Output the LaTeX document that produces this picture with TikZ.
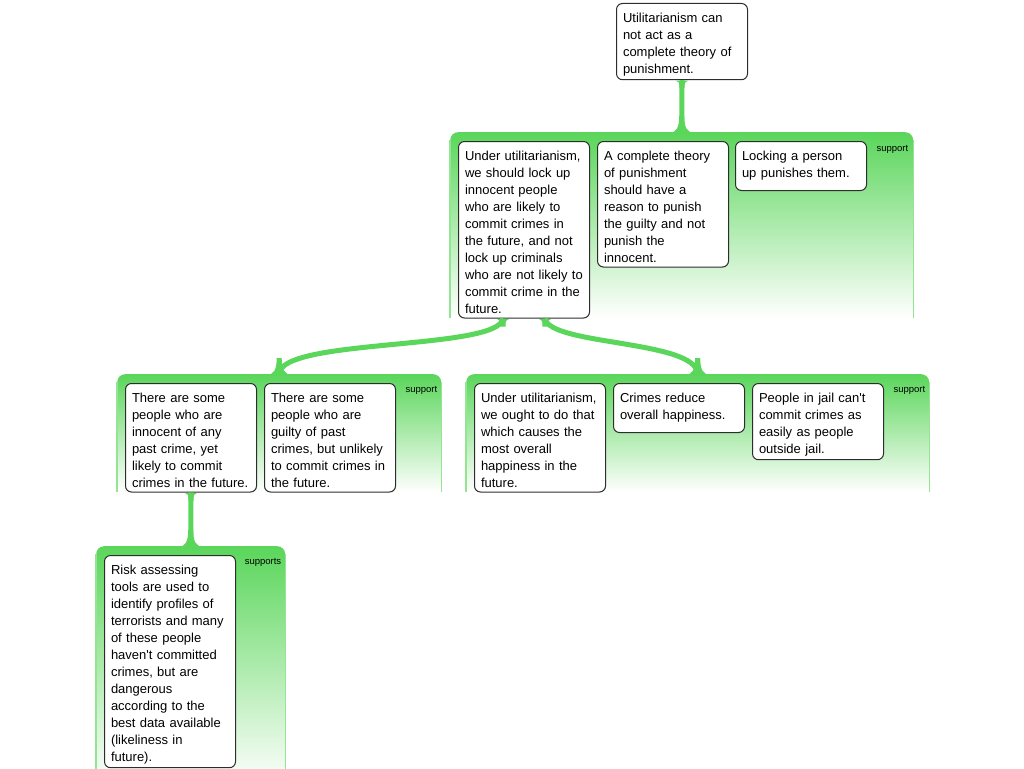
\documentclass[tikz,border=0pt]{standalone}
\usepackage{fontspec}
\setmainfont{Liberation Sans}
\usetikzlibrary{calc}
\definecolor{grn}{RGB}{90,214,90}
\definecolor{boxline}{RGB}{45,45,45}

\begin{document}
\begin{tikzpicture}[x=1pt, y=-1pt,
    claim/.style={draw=boxline, line width=1pt, fill=white, rounded corners=6pt,
      anchor=north west, align=left, text width=118pt, inner xsep=6.5pt, inner ysep=3.5pt,
      font=\fontsize{13}{17}\selectfont,
      execute at begin node={\rule{0pt}{15.5pt}}, execute at end node={\rule[-1pt]{0pt}{1pt}}},
    short/.style={text depth=26.5pt},
    panel/.style={anchor=north west, rounded corners=8pt, inner sep=0pt,
      top color=grn, middle color=grn!40, bottom color=white},
    side/.style={grn!65, line width=1.2pt},
    tag/.style={anchor=base east, inner sep=0pt, font=\fontsize{9.5}{11}\selectfont},
    link/.style={grn, line width=5pt}]
    \useasboundingbox (0,0) rectangle (1024,768);

    % green panels
    \node[panel, minimum width=463pt, minimum height=186pt] (p1) at (450,132) {};
    \node[panel, minimum width=324pt, minimum height=118pt] (p2) at (117,374) {};
    \node[panel, minimum width=463pt, minimum height=118pt] (p3) at (466,374) {};
    \node[panel, minimum width=189pt, minimum height=240pt] (p4) at (96,546) {};
    \foreach \p in {p1,p2,p3,p4} {
        \draw[side] ([yshift=-8pt]\p.north west) -- (\p.south west);
        \draw[side] ([yshift=-8pt]\p.north east) -- (\p.south east);
    }

    % claims
    \node[claim] (root) at (616,3) {Utilitarianism can\\not act as a\\complete theory of\\punishment.};

    \node[claim] (A) at (458,141) {Under utilitarianism,\\we should lock up\\innocent people\\who are likely to\\commit crimes in\\the future, and not\\lock up criminals\\who are not likely to\\commit crime in the\\future.};
    \node[claim] (B) at (597,141) {A complete theory\\of punishment\\should have a\\reason to punish\\the guilty and not\\punish the\\innocent.};
    \node[claim, short] (C) at (735,141) {Locking a person\\up punishes them.};

    \node[claim] (D) at (125,383) {There are some\\people who are\\innocent of any\\past crime, yet\\likely to commit\\crimes in the future.};
    \node[claim] (E) at (264,383) {There are some\\people who are\\guilty of past\\crimes, but unlikely\\to commit crimes in\\the future.};

    \node[claim] (F) at (474,383) {Under utilitarianism,\\we ought to do that\\which causes the\\most overall\\happiness in the\\future.};
    \node[claim, short] (G) at (613,383) {Crimes reduce\\overall happiness.};
    \node[claim] (H) at (752,383) {People in jail can\textquotesingle t\\commit crimes as\\easily as people\\outside jail.};

    \node[claim] (I) at (104,555) {Risk assessing\\tools are used to\\identify profiles of\\terrorists and many\\of these people\\haven\textquotesingle t committed\\crimes, but are\\dangerous\\according to the\\best data available\\(likeliness in\\future).};

    % panel tags
    \node[tag] (t1) at ($(p1.north east)+(-5,19)$) {support};
    \node[tag] (t2) at ($(p2.north east)+(-4,18)$) {support};
    \node[tag] (t3) at ($(p3.north east)+(-4,18)$) {support};
    \node[tag] (t4) at ($(p4.north east)+(-4,18)$) {supports};

    % connectors
    \coordinate (al) at ([xshift=-21pt]A.south);
    \coordinate (ar) at ([xshift=21pt]A.south);
    \draw[link] (root.south) -- (p1.north);
    \draw[link] (al) .. controls ($(A.south)+(-25.5,32)$) and ($(p2.north)+(1,-36)$) .. (p2.north);
    \draw[link] (ar) .. controls ($(A.south)+(25.5,27)$) and ($(p3.north)+(-1,-34)$) .. (p3.north);
    \draw[link] (D.south) -- (p4.north);

    \foreach \p in {p1.north, p2.north, p3.north, p4.north}
        \fill[grn] ($(\p)+(-13,1)$) .. controls ($(\p)+(-5,1)$) and ($(\p)+(-2.5,-5)$) .. ($(\p)+(-2.5,-16)$)
            -- ($(\p)+(2.5,-16)$) .. controls ($(\p)+(2.5,-5)$) and ($(\p)+(5,1)$) .. ($(\p)+(13,1)$) -- cycle;
    \foreach \p in {root.south, al, ar, D.south}
        \fill[grn] ($(\p)+(-6,0.5)$) .. controls ($(\p)+(-3,0.5)$) and ($(\p)+(-2.5,3)$) .. ($(\p)+(-2.5,8)$)
            -- ($(\p)+(2.5,8)$) .. controls ($(\p)+(2.5,3)$) and ($(\p)+(3,0.5)$) .. ($(\p)+(6,0.5)$) -- cycle;
\end{tikzpicture}
\end{document}
